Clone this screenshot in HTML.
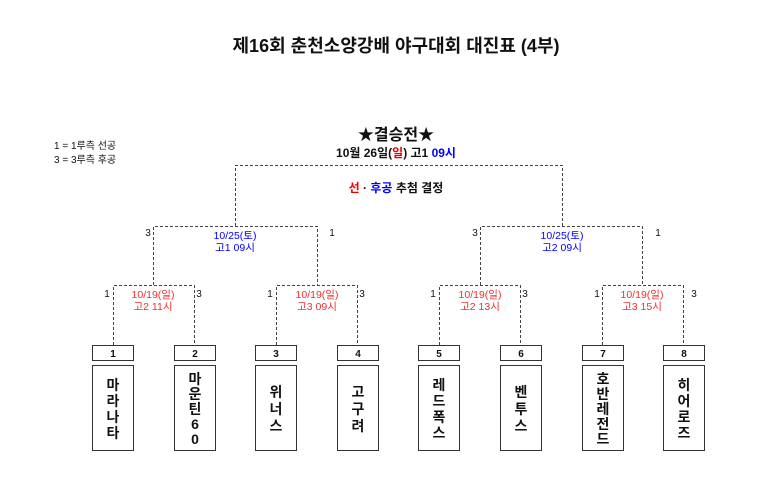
<!DOCTYPE html>
<html><head><meta charset="utf-8"><style>
body{margin:0;background:#fff;}
svg text{font-family:"Liberation Sans","Noto Sans CJK KR",sans-serif;}
</style></head><body>
<svg width="780" height="491" viewBox="0 0 780 491" xmlns="http://www.w3.org/2000/svg">
<rect width="780" height="491" fill="#fff"/>
<text x="396" y="52" font-size="18" font-weight="bold" text-anchor="middle" fill="#111">제16회 춘천소양강배 야구대회 대진표 (4부)</text>
<text x="54" y="149" font-size="10" fill="#111">1 = 1루측 선공</text>
<text x="54" y="163" font-size="10" fill="#111">3 = 3루측 후공</text>
<text x="396" y="140" font-size="16" font-weight="bold" text-anchor="middle" fill="#111">★결승전★</text>
<text x="396" y="157" font-size="12" font-weight="bold" text-anchor="middle" fill="#111">10월 26일(<tspan fill="#e00">일</tspan>) 고1 <tspan fill="#00f">09시</tspan></text>
<text x="396" y="192" font-size="12" font-weight="bold" text-anchor="middle" fill="#111"><tspan fill="#e00">선</tspan> · <tspan fill="#00f">후공</tspan> 추첨 결정</text>
<g fill="none" stroke="#444" stroke-width="1" stroke-dasharray="3,2">
<path d="M235.5 226V165.5H562.5V226"/>
<path d="M153.5 285V226.5H317.5V285"/>
<path d="M480.5 285V226.5H642.5V285"/>
<path d="M113.5 345V285.5H194.5V345"/>
<path d="M276.5 345V285.5H357.5V345"/>
<path d="M439.5 345V285.5H520.5V345"/>
<path d="M602.5 345V285.5H683.5V345"/>
</g>
<g font-size="10" fill="#111" text-anchor="middle">
<text x="148" y="236">3</text><text x="332" y="236">1</text>
<text x="475" y="236">3</text><text x="658" y="236">1</text>
<text x="107" y="297">1</text><text x="199" y="297">3</text>
<text x="270" y="297">1</text><text x="362" y="297">3</text>
<text x="433" y="297">1</text><text x="525" y="297">3</text>
<text x="597" y="297">1</text><text x="694" y="297">3</text>
</g>
<g font-size="10.5" text-anchor="middle" fill="#00f">
<text x="235" y="239">10/25(토)</text><text x="235" y="251">고1 09시</text>
<text x="562" y="239">10/25(토)</text><text x="562" y="251">고2 09시</text>
</g>
<g font-size="10.5" text-anchor="middle" fill="#f03030">
<text x="153" y="298">10/19(일)</text><text x="153" y="310">고2 11시</text>
<text x="317" y="298">10/19(일)</text><text x="317" y="310">고3 09시</text>
<text x="480" y="298">10/19(일)</text><text x="480" y="310">고2 13시</text>
<text x="642" y="298">10/19(일)</text><text x="642" y="310">고3 15시</text>
</g>
<g fill="#fff" stroke="#333" stroke-width="1">
<rect x="92.5" y="345.5" width="41" height="15"/><rect x="174.5" y="345.5" width="41" height="15"/>
<rect x="255.5" y="345.5" width="41" height="15"/><rect x="337.5" y="345.5" width="41" height="15"/>
<rect x="418.5" y="345.5" width="41" height="15"/><rect x="500.5" y="345.5" width="41" height="15"/>
<rect x="582.5" y="345.5" width="41" height="15"/><rect x="663.5" y="345.5" width="41" height="15"/>
<rect x="92.5" y="365.5" width="41" height="85"/><rect x="174.5" y="365.5" width="41" height="85"/>
<rect x="255.5" y="365.5" width="41" height="85"/><rect x="337.5" y="365.5" width="41" height="85"/>
<rect x="418.5" y="365.5" width="41" height="85"/><rect x="500.5" y="365.5" width="41" height="85"/>
<rect x="582.5" y="365.5" width="41" height="85"/><rect x="663.5" y="365.5" width="41" height="85"/>
</g>
<g font-size="10" font-weight="bold" text-anchor="middle" fill="#111">
<text x="113" y="357">1</text><text x="195" y="357">2</text><text x="276" y="357">3</text><text x="358" y="357">4</text>
<text x="439" y="357">5</text><text x="521" y="357">6</text><text x="603" y="357">7</text><text x="684" y="357">8</text>
</g>
<g font-size="14" font-weight="bold" text-anchor="middle" fill="#111">
<text x="113" y="390"><tspan x="113">마</tspan><tspan x="113" dy="16">라</tspan><tspan x="113" dy="16">나</tspan><tspan x="113" dy="16">타</tspan></text>
<text x="195" y="384"><tspan x="195">마</tspan><tspan x="195" dy="15">운</tspan><tspan x="195" dy="15">틴</tspan><tspan x="195" dy="15">6</tspan><tspan x="195" dy="15">0</tspan></text>
<text x="276" y="397"><tspan x="276">위</tspan><tspan x="276" dy="17">너</tspan><tspan x="276" dy="17">스</tspan></text>
<text x="358" y="397"><tspan x="358">고</tspan><tspan x="358" dy="17">구</tspan><tspan x="358" dy="17">려</tspan></text>
<text x="439" y="390"><tspan x="439">레</tspan><tspan x="439" dy="16">드</tspan><tspan x="439" dy="16">폭</tspan><tspan x="439" dy="16">스</tspan></text>
<text x="521" y="397"><tspan x="521">벤</tspan><tspan x="521" dy="17">투</tspan><tspan x="521" dy="17">스</tspan></text>
<text x="603" y="384"><tspan x="603">호</tspan><tspan x="603" dy="15">반</tspan><tspan x="603" dy="15">레</tspan><tspan x="603" dy="15">전</tspan><tspan x="603" dy="15">드</tspan></text>
<text x="684" y="390"><tspan x="684">히</tspan><tspan x="684" dy="16">어</tspan><tspan x="684" dy="16">로</tspan><tspan x="684" dy="16">즈</tspan></text>
</g>
</svg>
</body></html>
